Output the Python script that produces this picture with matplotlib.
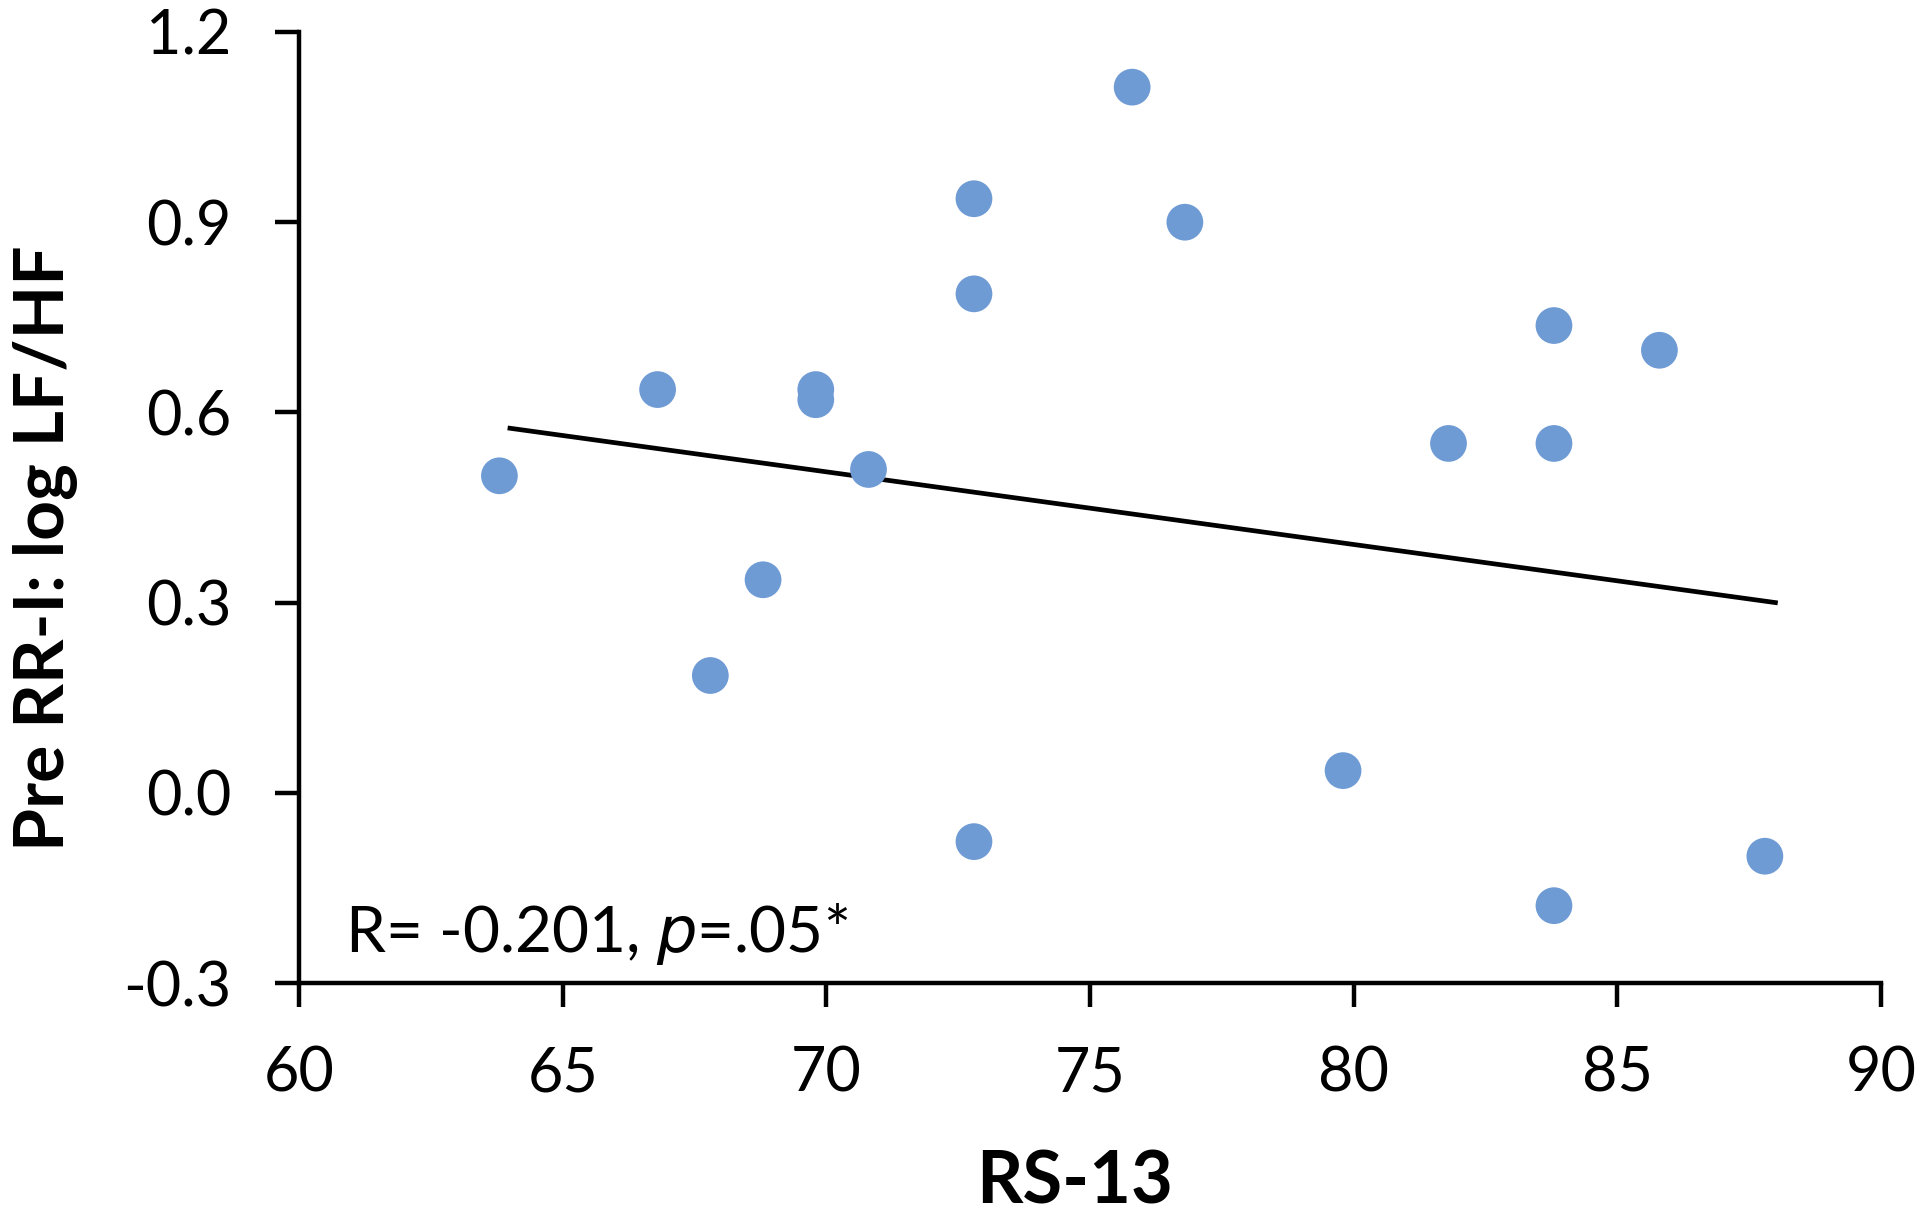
import matplotlib
matplotlib.use("Agg")
import matplotlib.pyplot as plt

# scatter data
rs13 = [63.8, 66.8, 67.8, 68.8, 69.8, 69.8, 70.8, 72.8, 72.8, 72.8,
        75.8, 76.8, 79.8, 81.8, 83.8, 83.8, 83.8, 85.8, 87.8]
lf_hf = [0.500, 0.636, 0.185, 0.336, 0.636, 0.620, 0.510, 0.937, 0.787, -0.077,
         1.113, 0.900, 0.035, 0.551, 0.737, 0.551, -0.178, 0.698, -0.100]

# linear trend line endpoints
trend_x = [64.0, 88.0]
trend_y = [0.575, 0.300]

x_ticks = [60, 65, 70, 75, 80, 85, 90]
y_ticks = [-0.3, 0.0, 0.3, 0.6, 0.9, 1.2]

plt.rcParams['font.family'] = ['Lato', 'DejaVu Sans']

fig = plt.figure(figsize=(19.22, 12.16), dpi=100)
ax = fig.add_axes([0.1556, 0.1916, 0.8230, 0.7821])

ax.scatter(rs13, lf_hf, s=700, color='#6f9bd5', edgecolors='none', zorder=3)
ax.plot(trend_x, trend_y, color='black', linewidth=3.4, zorder=2)

ax.set_xlim(60, 90)
ax.set_ylim(-0.3, 1.2)
ax.set_xticks(x_ticks)
ax.set_yticks(y_ticks)
ax.set_yticklabels([f"{v:.1f}" for v in y_ticks])

for side in ['top', 'right']:
    ax.spines[side].set_visible(False)
for side in ['left', 'bottom']:
    ax.spines[side].set_linewidth(3.2)

ax.tick_params(axis='both', direction='out', length=17, width=3.2, labelsize=44)
ax.tick_params(axis='y', pad=32)
ax.tick_params(axis='x', pad=28)

ax.set_xlabel('RS-13', fontsize=52, fontweight='bold')
ax.xaxis.set_label_coords(0.49, -0.175)
ax.set_ylabel('Pre RR-I: log LF/HF', fontsize=50, fontweight='bold')
ax.yaxis.set_label_coords(-0.140, 0.457)

ax.text(0.029, 0.033, 'R= -0.201, $\\mathit{p}$=.05*', transform=ax.transAxes,
        fontsize=46, ha='left', va='baseline')

fig.savefig('out.png', dpi=100)
